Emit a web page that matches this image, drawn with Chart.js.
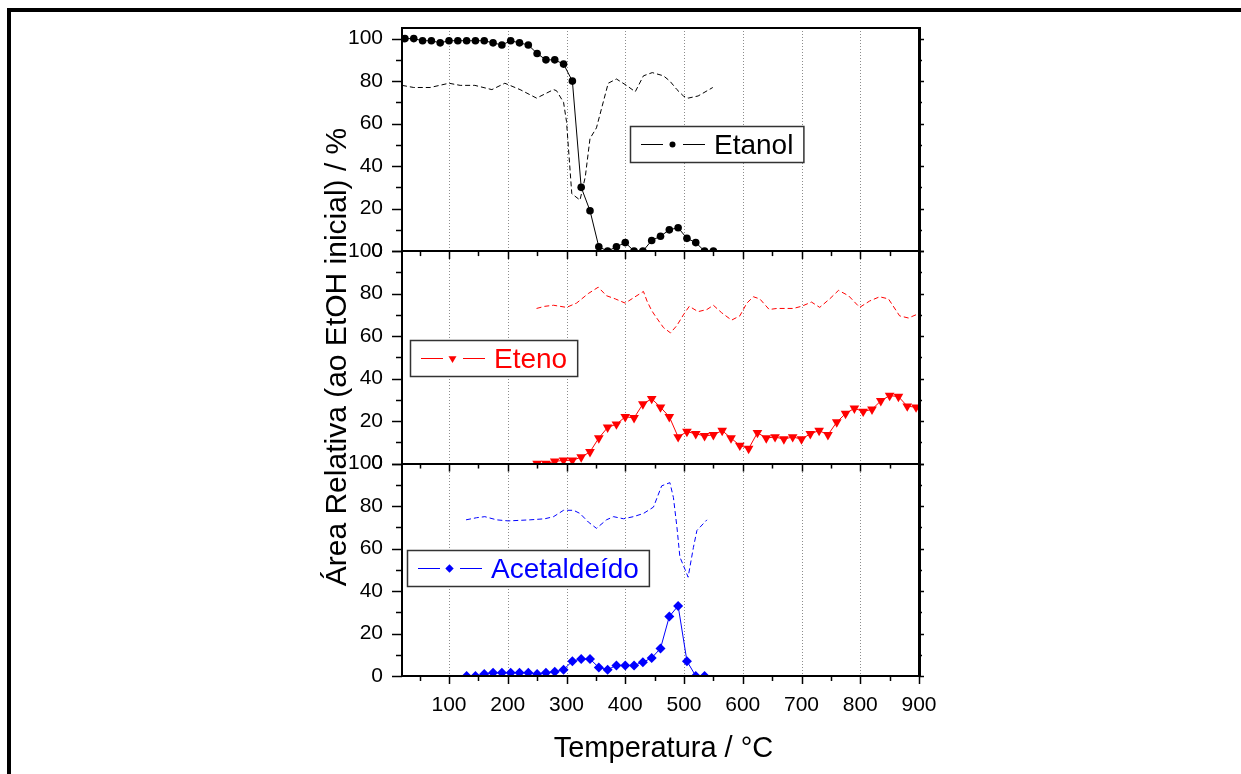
<!DOCTYPE html>
<html>
<head>
<meta charset="utf-8">
<script src="https://cdn.jsdelivr.net/npm/chart.js@4/dist/chart.umd.min.js"></script>
<style>
html,body{margin:0;padding:0;background:#fff;}
#wrap{width:1241px;height:774px;position:relative;}
canvas{display:block;}
</style>
</head>
<body>
<div id="wrap"><canvas id="c" width="1241" height="774"></canvas></div>
<script>
// ---------- data ----------
const seriesNames = ['Etanol', 'Eteno', 'Acetaldeído'];
const xTitle = 'Temperatura / °C';
const yTitle = 'Área Relativa (ao EtOH inicial) / %';
const xTicks = [100, 200, 300, 400, 500, 600, 700, 800, 900];
const xMinorTicks = [50, 150, 250, 350, 450, 550, 650, 750, 850];
const yTicks = [0, 20, 40, 60, 80, 100];
const yMinorTicks = [10, 30, 50, 70, 90];

const tempEtanol = [25,40,55,70,85,100,115,130,145,160,175,190,205,220,235,250,265,280,295,310,325,340,355,370,385,400,415,430,445,460,475,490,505,520,535,550];
const etanol = [100,100,99,99,98,99,99,99,99,99,98,97,99,98,97,93,90,90,88,80,30,19,2,0,2,4,0,0,5,7,10,11,6,4,0,0];

const tempEtanolDash = [20,40,68,100,119,144,173,195,221,249,278,283,295,300,309,323,332,340,351,371,385,402,417,431,446,465,476,488,499,507,524,549];
const etanolDash = [78,77,77,79,78,78,76,79,76,72,76,75.5,70,61,27,24,35,53,58,79,81,78,75,82.5,84,82.5,80,76,73,72,73,77];

const tempEteno = [250,265,280,295,310,325,340,355,370,385,400,415,430,445,460,475,490,505,520,535,550,565,580,595,610,625,640,655,670,685,700,715,730,745,760,775,790,805,820,835,850,865,880,895];
const eteno = [0,0,1,1.5,1.5,3,5.5,12,17,18.5,22,21.5,28,30.5,26.5,22,12.5,15,14,13,13.5,15.5,12,8.5,7,14.5,12,12.5,11.5,12.5,11.5,14,15.5,13.5,19.5,23.5,26,24.5,25.5,29.5,32,31.5,27,26.5];

const tempEtenoDash = [249,263,278,300,317,337,354,368,383,400,414,431,437,445,451,465,477,488,499,509,524,539,550,564,581,595,607,618,629,645,658,672,686,700,717,731,748,763,780,799,816,833,848,867,882,899];
const etenoDash = [73,74,74.5,73.5,75.5,80,83,79,77.5,75.5,78,81,76.5,72,69.5,64,61.5,65,70,74,71.5,72.5,74.5,71,67.5,69.5,75.5,78.5,77.5,72.5,73,73,73,74,76,73.5,77.5,81.5,79,73.5,76.5,78.5,77.5,69.5,68.5,70.5];

const tempAcet = [130,145,160,175,190,205,220,235,250,265,280,295,310,325,340,355,370,385,400,415,430,445,460,475,490,505,520,535];
const acetaldeido = [0,0,1,1.5,1.5,1.5,1.5,1.5,1,1.5,2,3,7,8,8,4,3,5,5,5,6.5,8.5,13,28,33,7,0,0];

const tempAcetDash = [129,147,161,181,201,238,263,278,295,312,323,337,351,368,380,397,414,431,448,462,476,482,488,493,502,507,516,522,539];
const acetDash = [73.5,74.5,75,73.5,73,73.5,74,75,78,78,76.5,72.5,69.5,73.5,75,74,75,76.5,79.5,89.5,91,84,70,56,50,46.5,60.5,68.5,73.5];

// ---------- helpers ----------
const FONT = "'Liberation Sans', Arial, sans-serif";
const toXY = (xs, ys) => xs.map((x, i) => ({x: x, y: ys[i]}));

const RED = '#ff0000', BLUE = '#0000ff', BLACK = '#000000';

function drawMarker(ctx, style, x, y, r, color) {
  ctx.save();
  ctx.fillStyle = color;
  ctx.beginPath();
  if (style === 'circle') {
    ctx.arc(x, y, r, 0, Math.PI * 2);
  } else if (style === 'triDown') {
    const s = Math.sin(Math.PI / 3) * r;
    ctx.moveTo(x - s, y - r / 2);
    ctx.lineTo(x + s, y - r / 2);
    ctx.lineTo(x, y + r);
    ctx.closePath();
  } else if (style === 'diamond') {
    ctx.moveTo(x, y - r); ctx.lineTo(x + r, y); ctx.lineTo(x, y + r); ctx.lineTo(x - r, y); ctx.closePath();
  }
  ctx.fill();
  ctx.restore();
}

const framePlugin = {
  id: 'frame',
  beforeDatasetsDraw(chart, args, opts) {
    const {ctx, chartArea: a, scales} = chart;
    const x = scales.x;
    ctx.save();
    ctx.strokeStyle = '#8c8c8c';
    ctx.lineWidth = 1;
    ctx.setLineDash([1, 2]);
    xTicks.filter(v => v < 900).forEach(v => {
      const px = Math.round(x.getPixelForValue(v)) + 0.5;
      ctx.beginPath(); ctx.moveTo(px, a.top); ctx.lineTo(px, a.bottom); ctx.stroke();
    });
    ctx.restore();
  },
  afterDatasetsDraw(chart, args, opts) {
    const {ctx, chartArea: a, scales} = chart;
    const x = scales.x;
    const panels = [scales.yEtanol, scales.yEteno, scales.yAcet];
    ctx.save();
    ctx.strokeStyle = '#000';
    ctx.setLineDash([]);
    panels.forEach(s => {
      ctx.lineWidth = 1.5;
      yTicks.forEach(v => {
        const py = Math.round(s.getPixelForValue(v)) + 0.5;
        ctx.beginPath(); ctx.moveTo(a.left - 10, py); ctx.lineTo(a.left, py); ctx.stroke();
        ctx.beginPath(); ctx.moveTo(a.right, py); ctx.lineTo(a.right + 5, py); ctx.stroke();
      });
      yMinorTicks.forEach(v => {
        const py = Math.round(s.getPixelForValue(v)) + 0.5;
        ctx.beginPath(); ctx.moveTo(a.left - 6, py); ctx.lineTo(a.left, py); ctx.stroke();
        ctx.beginPath(); ctx.moveTo(a.right, py); ctx.lineTo(a.right + 3, py); ctx.stroke();
      });
      const by = s.bottom;
      xTicks.forEach(v => {
        const px = Math.round(x.getPixelForValue(v)) + 0.5;
        ctx.beginPath(); ctx.moveTo(px, by); ctx.lineTo(px, by + 8); ctx.stroke();
      });
      xMinorTicks.forEach(v => {
        const px = Math.round(x.getPixelForValue(v)) + 0.5;
        ctx.beginPath(); ctx.moveTo(px, by); ctx.lineTo(px, by + 5); ctx.stroke();
      });
      ctx.lineWidth = 2;
      ctx.beginPath(); ctx.moveTo(a.left, Math.round(by)); ctx.lineTo(a.right, Math.round(by)); ctx.stroke();
    });
    ctx.lineWidth = 2;
    ctx.beginPath(); ctx.moveTo(a.left, Math.round(a.top)); ctx.lineTo(a.right, Math.round(a.top)); ctx.stroke();
    ctx.beginPath(); ctx.moveTo(a.left, a.top - 1); ctx.lineTo(a.left, a.bottom + 1); ctx.stroke();
    ctx.lineWidth = 3;
    ctx.beginPath(); ctx.moveTo(a.right + 0.5, a.top - 1); ctx.lineTo(a.right + 0.5, a.bottom + 1); ctx.stroke();

    // legends, anchored to each panel's top
    (opts.legends || []).forEach(L => {
      const s = scales[L.scale];
      ctx.font = `28px ${FONT}`;
      const tw = ctx.measureText(L.text).width;
      const w = 84 + tw + 10, h = 36;
      const bx = a.left + L.dx, by = Math.round(s.top) + L.dy;
      ctx.fillStyle = '#fff';
      ctx.fillRect(bx, by, w, h);
      ctx.strokeStyle = '#333';
      ctx.lineWidth = 1.5;
      ctx.strokeRect(bx + 0.5, by + 0.5, w, h);
      const ly = by + 18.5;
      ctx.strokeStyle = L.color;
      ctx.lineWidth = 1;
      ctx.beginPath(); ctx.moveTo(bx + 11, ly); ctx.lineTo(bx + 33, ly); ctx.stroke();
      ctx.beginPath(); ctx.moveTo(bx + 53, ly); ctx.lineTo(bx + 75, ly); ctx.stroke();
      drawMarker(ctx, L.marker, bx + 42.5, ly, L.r, L.color);
      ctx.fillStyle = L.color;
      ctx.textAlign = 'left';
      ctx.textBaseline = 'alphabetic';
      ctx.fillText(L.text, bx + 84, by + 28);
    });

    // axis titles
    ctx.fillStyle = '#000';
    ctx.textAlign = 'center';
    ctx.textBaseline = 'alphabetic';
    ctx.font = `29px ${FONT}`;
    ctx.fillText(xTitle, (a.left + a.right) / 2 + 3, 757);
    ctx.save();
    ctx.font = `30px ${FONT}`;
    ctx.translate(346, 357);
    ctx.rotate(-Math.PI / 2);
    ctx.fillText(yTitle, 0, 0);
    ctx.restore();

    // outer frame
    ctx.fillStyle = '#000';
    ctx.fillRect(7, 8, 1241 - 7, 4);
    ctx.fillRect(7, 8, 4, 774 - 8);
    ctx.restore();
  }
};

const yScale = (weight, max) => ({
  type: 'linear',
  position: 'left',
  stack: 'panels',
  stackWeight: weight,
  min: 0,
  max: max,
  grid: {display: false, drawTicks: true, tickLength: 19},
  border: {display: false},
  ticks: {
    color: '#000',
    font: {family: FONT, size: 21},
    padding: 0,
    autoSkip: false,
    callback: v => String(v)
  },
  afterBuildTicks: s => { s.ticks = yTicks.map(v => ({value: v})); },
  afterFit: s => { s.width = 402; }
});

new Chart(document.getElementById('c'), {
  type: 'line',
  data: {
    datasets: [
      {label: seriesNames[0] + ' (tracejado)', data: toXY(tempEtanolDash, etanolDash), yAxisID: 'yEtanol', borderColor: BLACK, borderWidth: 1, borderDash: [5, 3], pointRadius: 0, fill: false},
      {label: seriesNames[0], data: toXY(tempEtanol, etanol), yAxisID: 'yEtanol', borderColor: BLACK, backgroundColor: BLACK, borderWidth: 1, pointStyle: 'circle', pointRadius: 3.8, pointBorderWidth: 0, fill: false},
      {label: seriesNames[1] + ' (tracejado)', data: toXY(tempEtenoDash, etenoDash), yAxisID: 'yEteno', borderColor: RED, borderWidth: 1, borderDash: [5, 3], pointRadius: 0, fill: false},
      {label: seriesNames[1], data: toXY(tempEteno, eteno), yAxisID: 'yEteno', borderColor: RED, backgroundColor: RED, borderWidth: 1, pointStyle: 'triangle', pointRotation: 180, pointRadius: 5.6, pointBorderWidth: 0, fill: false},
      {label: seriesNames[2] + ' (tracejado)', data: toXY(tempAcetDash, acetDash), yAxisID: 'yAcet', borderColor: BLUE, borderWidth: 1, borderDash: [5, 3], pointRadius: 0, fill: false},
      {label: seriesNames[2], data: toXY(tempAcet, acetaldeido), yAxisID: 'yAcet', borderColor: BLUE, backgroundColor: BLUE, borderWidth: 1, pointStyle: 'rectRot', pointRadius: 5, pointBorderWidth: 0, fill: false}
    ]
  },
  options: {
    responsive: false,
    animation: false,
    layout: {padding: {top: 28, right: 322, bottom: 0, left: 0}},
    plugins: {
      legend: {display: false},
      tooltip: {enabled: false},
      frame: {
        legends: [
          {scale: 'yEtanol', text: seriesNames[0], color: BLACK, marker: 'circle', r: 3, dx: 228, dy: 98},
          {scale: 'yEteno', text: seriesNames[1], color: RED, marker: 'triDown', r: 4.6, dx: 8, dy: 89},
          {scale: 'yAcet', text: seriesNames[2], color: BLUE, marker: 'diamond', r: 4.2, dx: 5, dy: 86}
        ]
      }
    },
    scales: {
      x: {
        type: 'linear',
        min: 20,
        max: 900,
        grid: {display: false, drawTicks: true, tickLength: 17},
        border: {display: false},
        ticks: {
          color: '#000',
          font: {family: FONT, size: 21},
          padding: 0,
          maxRotation: 0,
          autoSkip: false,
          callback: v => String(v)
        },
        afterBuildTicks: s => { s.ticks = xTicks.map(v => ({value: v})); },
        afterFit: s => { s.height = 98; }
      },
      yAcet: yScale(100, 100),
      yEteno: yScale(100, 100),
      yEtanol: yScale(105, 105)
    }
  },
  plugins: [framePlugin]
});
</script>
</body>
</html>
